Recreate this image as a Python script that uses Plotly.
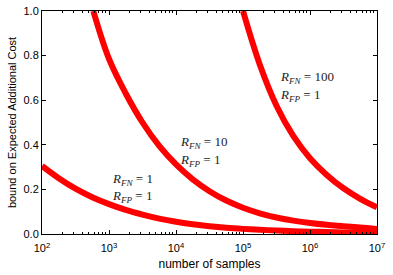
import plotly.graph_objects as go

# Data
n_rfn1 = [100, 178, 316, 562, 1000, 1778, 3162, 5623, 10000, 17783, 31623, 56234,
          100000, 177828, 316228, 562341, 1000000, 1778279, 3162278, 5623413, 10000000]
b_rfn1 = [0.305, 0.25, 0.203, 0.165, 0.134, 0.108, 0.087, 0.069, 0.055, 0.044, 0.035, 0.028,
          0.023, 0.019, 0.0155, 0.0128, 0.0105, 0.0087, 0.0072, 0.006, 0.005]

n_rfn10 = [583, 1000, 1778, 3162, 5623, 10000, 17783, 31623, 56234, 100000,
           177828, 316228, 562341, 1000000, 1778279, 3162278, 5623413, 10000000]
b_rfn10 = [1.0, 0.785, 0.63, 0.50, 0.395, 0.312, 0.245, 0.192, 0.150, 0.118,
           0.093, 0.074, 0.060, 0.049, 0.041, 0.035, 0.029, 0.022]

n_rfn100 = [100000, 177828, 316228, 562341, 1000000, 1778279, 3162278, 5623413, 10000000]
b_rfn100 = [1.0, 0.76, 0.575, 0.44, 0.34, 0.265, 0.205, 0.158, 0.12]

series = [(n_rfn1, b_rfn1), (n_rfn10, b_rfn10), (n_rfn100, b_rfn100)]

# annotation labels: (R_FN value, log10 x position, y line1, y line2)
labels_rfn = ["1", "10", "100"]
label_logx = [3.01, 4.03, 5.52]
label_y1 = [0.245, 0.41, 0.70]
label_y2 = [0.167, 0.33, 0.62]

fig = go.Figure()
for n, b in series:
    fig.add_trace(go.Scatter(x=n, y=b, mode="lines",
                             line=dict(color="#ff0000", width=6, shape="spline", smoothing=1.0),
                             showlegend=False, hoverinfo="skip"))

math_font = dict(family="Liberation Serif", size=13, color="#222222")
for r, lx, y1, y2 in zip(labels_rfn, label_logx, label_y1, label_y2):
    fig.add_annotation(x=lx, y=y1, xref="x", yref="y", xanchor="left", yanchor="middle",
                       text=f"<i>R</i><sub><i>FN</i></sub> = {r}", showarrow=False, font=math_font)
    fig.add_annotation(x=lx, y=y2, xref="x", yref="y", xanchor="left", yanchor="middle",
                       text="<i>R</i><sub><i>FP</i></sub> = 1", showarrow=False, font=math_font)

tick_font = dict(family="Liberation Sans", size=11, color="black")
fig.update_layout(
    width=393, height=275,
    margin=dict(l=42, r=16, t=11, b=41),
    paper_bgcolor="white", plot_bgcolor="white",
    font=dict(family="Liberation Sans", color="black"),
)
fig.update_xaxes(
    type="log", range=[2, 7], automargin=False,
    tickvals=[100, 1000, 10000, 100000, 1000000, 10000000],
    ticktext=["10<sup>2</sup>", "10<sup>3</sup>", "10<sup>4</sup>", "10<sup>5</sup>", "10<sup>6</sup>", "10<sup>7</sup>"],
    ticks="inside", ticklen=4, tickcolor="black", tickwidth=1, ticklabelstandoff=4,
    minor=dict(ticks="inside", ticklen=2, tickcolor="black", dtick="D1", showgrid=False),
    showline=True, linecolor="black", linewidth=1, mirror="ticks",
    showgrid=False, zeroline=False, tickfont=tick_font,
    title=dict(text="number of samples", font=dict(family="Liberation Sans", size=12), standoff=6),
)
fig.update_yaxes(
    range=[0, 1], automargin=False, tickvals=[0, 0.2, 0.4, 0.6, 0.8, 1.0],
    ticktext=["0.0", "0.2", "0.4", "0.6", "0.8", "1.0"],
    ticks="inside", ticklen=4, tickcolor="black", tickwidth=1,
    showline=True, linecolor="black", linewidth=1, mirror="ticks",
    showgrid=False, zeroline=False, tickfont=tick_font,
    title=dict(text="bound on Expected Additional Cost", font=dict(family="Liberation Sans", size=11), standoff=4),
)
fig.write_html("out.html", post_script="document.body.style.margin='0';",
               config={"displayModeBar": False})
